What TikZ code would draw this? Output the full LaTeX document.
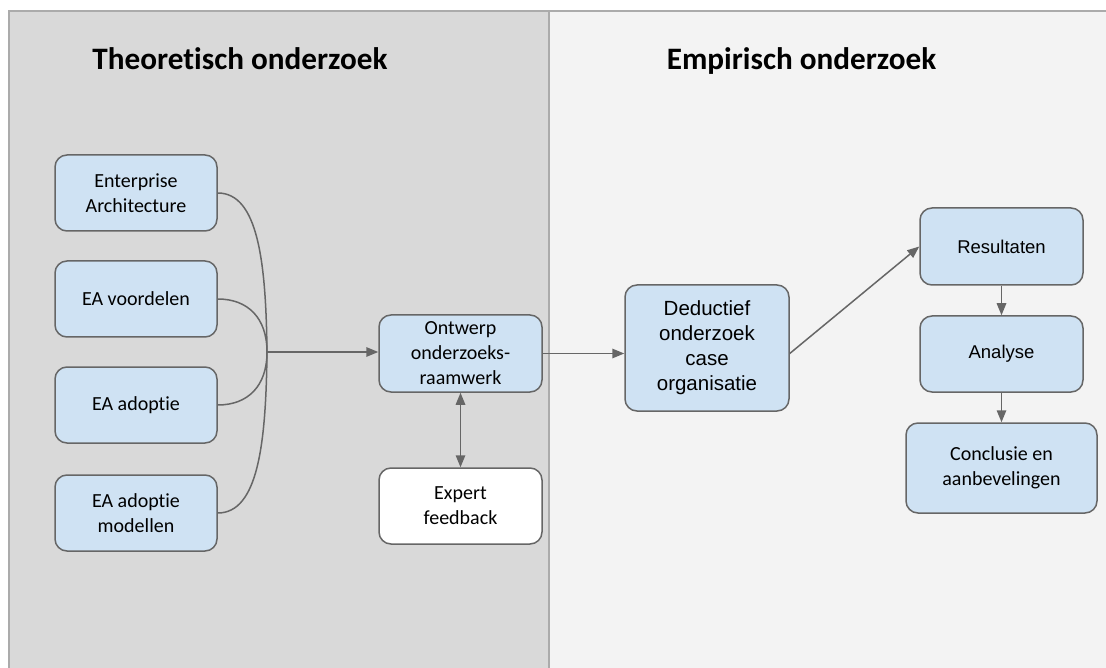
\documentclass[tikz,border=0pt]{standalone}
\usepackage{fontspec}
\setmainfont{Carlito}
\newfontfamily\carlitof[Ligatures=NoCommon]{Carlito}
\newfontfamily\arialf{Liberation Sans}
\usetikzlibrary{arrows.meta}
\definecolor{leftbg}{HTML}{D9D9D9}
\definecolor{rightbg}{HTML}{F3F3F3}
\definecolor{framec}{HTML}{ABABAB}
\definecolor{boxfill}{HTML}{CFE2F3}
\definecolor{edgec}{HTML}{666666}
\tikzset{
  box/.style={draw=edgec, line width=1.5pt, fill=boxfill, rounded corners=12pt, align=center, inner sep=2pt, font=\carlitof\fontsize{20}{25}\selectfont, text=black},
  wbox/.style={box, fill=white},
  abox/.style={box, font=\arialf\fontsize{20.5}{25}\selectfont},
  sbox/.style={box, font=\arialf\fontsize{18.5}{23}\selectfont},
  conn/.style={draw=edgec, line width=1.5pt},
  arr/.style={conn, -{Triangle[length=12pt,width=9.5pt]}},
  darr/.style={conn, {Triangle[length=12pt,width=9.5pt]}-{Triangle[length=12pt,width=9.5pt]}},
  title/.style={font=\carlitof\bfseries\fontsize{31.2}{37}\selectfont, text=black, inner sep=0pt, anchor=base}
}
\begin{document}
\begin{tikzpicture}[x=1pt, y=-1pt]
\useasboundingbox (0,0) rectangle (1106,668);
\fill[white] (0,0) rectangle (1106,668);
\fill[leftbg] (9,11) rectangle (549,668);
\fill[rightbg] (549,11) rectangle (1106,668);
\draw[framec, line width=2.5pt] (9,668) -- (9,11) -- (1106,11);
\draw[framec, line width=2.5pt] (549,11) -- (549,668);

\node[title] (t1) at (240,70) {Theoretisch onderzoek};
\node[title] (t2) at (801.5,70) {Empirisch onderzoek};

\node[box, minimum width=162pt, minimum height=76pt] (ea) at (136,193) {Enterprise\\Architecture};
\node[box, minimum width=162pt, minimum height=76pt] (vd) at (136,299) {EA voordelen};
\node[box, minimum width=162pt, minimum height=76pt] (ad) at (136,405) {EA adoptie};
\node[box, minimum width=162pt, minimum height=76pt] (md) at (136,513) {EA adoptie\\modellen};

\node[box, minimum width=163pt, minimum height=77pt] (ow) at (460.5,353.5) {Ontwerp\\onderzoeks-\\raamwerk};
\node[wbox, minimum width=163pt, minimum height=76pt] (ex) at (460.5,506) {Expert\\feedback};

\node[abox, minimum width=164pt, minimum height=126pt] (dd) at (707,348) {Deductief\\onderzoek\\case\\organisatie};

\node[sbox, minimum width=163pt, minimum height=77pt] (rs) at (1001.5,246.5) {Resultaten};
\node[sbox, minimum width=163pt, minimum height=76pt] (an) at (1001.5,354) {Analyse};
\node[box, minimum width=191pt, minimum height=90pt] (cc) at (1001.5,468) {Conclusie en\\aanbevelingen};

\coordinate (j) at (267,352);
\draw[conn] (ea.east) .. controls (258,193) and (266,262) .. (j);
\draw[conn] (vd.east) .. controls (248,299) and (267,318) .. (j);
\draw[conn] (ad.east) .. controls (248,405) and (267,386) .. (j);
\draw[conn] (md.east) .. controls (258,513) and (266,444) .. (j);
\draw[arr] (j) -- (j -| ow.west);

\draw[darr] (ow.south) -- (ex.north);
\draw[arr] (ow.east) -- (ow.east -| dd.west);
\draw[arr] (dd.east |- ow.east) -- (rs.west);
\draw[arr] (rs.south) -- (an.north);
\draw[arr] (an.south) -- (cc.north);
\end{tikzpicture}
\end{document}
